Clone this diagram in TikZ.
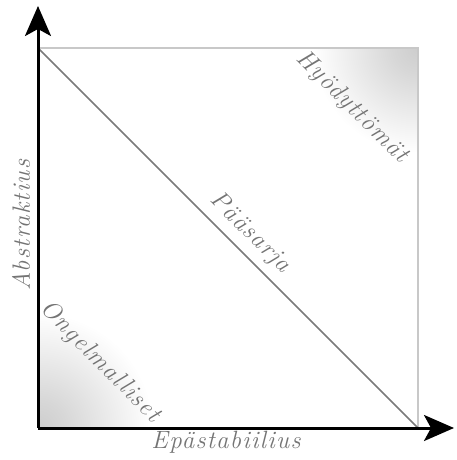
\documentclass[tikz,border=0pt]{standalone}
\usepackage{fontspec}
\newfontfamily\labfont[LetterSpace=5]{Latin Modern Roman}
\usetikzlibrary{arrows.meta}
\definecolor{sqgray}{HTML}{C8C8C8}
\definecolor{diaggray}{HTML}{7A7A7A}
\definecolor{txtgray}{HTML}{747474}
\definecolor{shadegray}{HTML}{CDCDCD}
\pgfdeclareradialshading{cornershade}{\pgfpoint{0bp}{0bp}}{color(0bp)=(shadegray); color(6bp)=(shadegray!80); color(25bp)=(white); color(50bp)=(white)}
\begin{document}
\begin{tikzpicture}[x=1pt,y=-1pt,
  lab/.style={text=txtgray, inner sep=0pt,
    font=\labfont\fontsize{25}{30}\selectfont\itshape},
  axis/.style={line width=3pt, -{Stealth[length=30pt,width=26pt,inset=7pt]}},
  sq/.style={draw=sqgray, line width=1.6pt},
  diag/.style={draw=diaggray, line width=1.6pt}]
\useasboundingbox (0,0) rectangle (456,460);
\coordinate (O) at (38,428);
\coordinate (TL) at (38,48);
\coordinate (TR) at (418,48);
\coordinate (BR) at (418,428);
\coordinate (Ytip) at (38,6);
\coordinate (Xtip) at (454,428);
% corner shadings
\begin{scope}
\clip (TL) rectangle (BR);
\shade[shading=cornershade] (TR) circle (105);
\shade[shading=cornershade] (O) circle (115);
\end{scope}
% square
\draw[sq] (TL) -- (TR) -- (BR);
\draw[diag] (TL) -- (BR);
% axes
\draw[axis] (O) -- (Ytip);
\draw[axis] (O) -- (Xtip);
% labels
\node[lab, rotate=90] (ab) at (21,225) {Abstraktius};
\node[lab] (ep) at (226,442) {Epästabiilius};
\node[lab, rotate=-45] (hy) at (352,107) {Hyödyttömät};
\node[lab, rotate=-45] (on) at (100,362) {Ongelmalliset};
\node[lab, rotate=-45] (pa) at (250,233) {Pääsarja};
\end{tikzpicture}
\end{document}
